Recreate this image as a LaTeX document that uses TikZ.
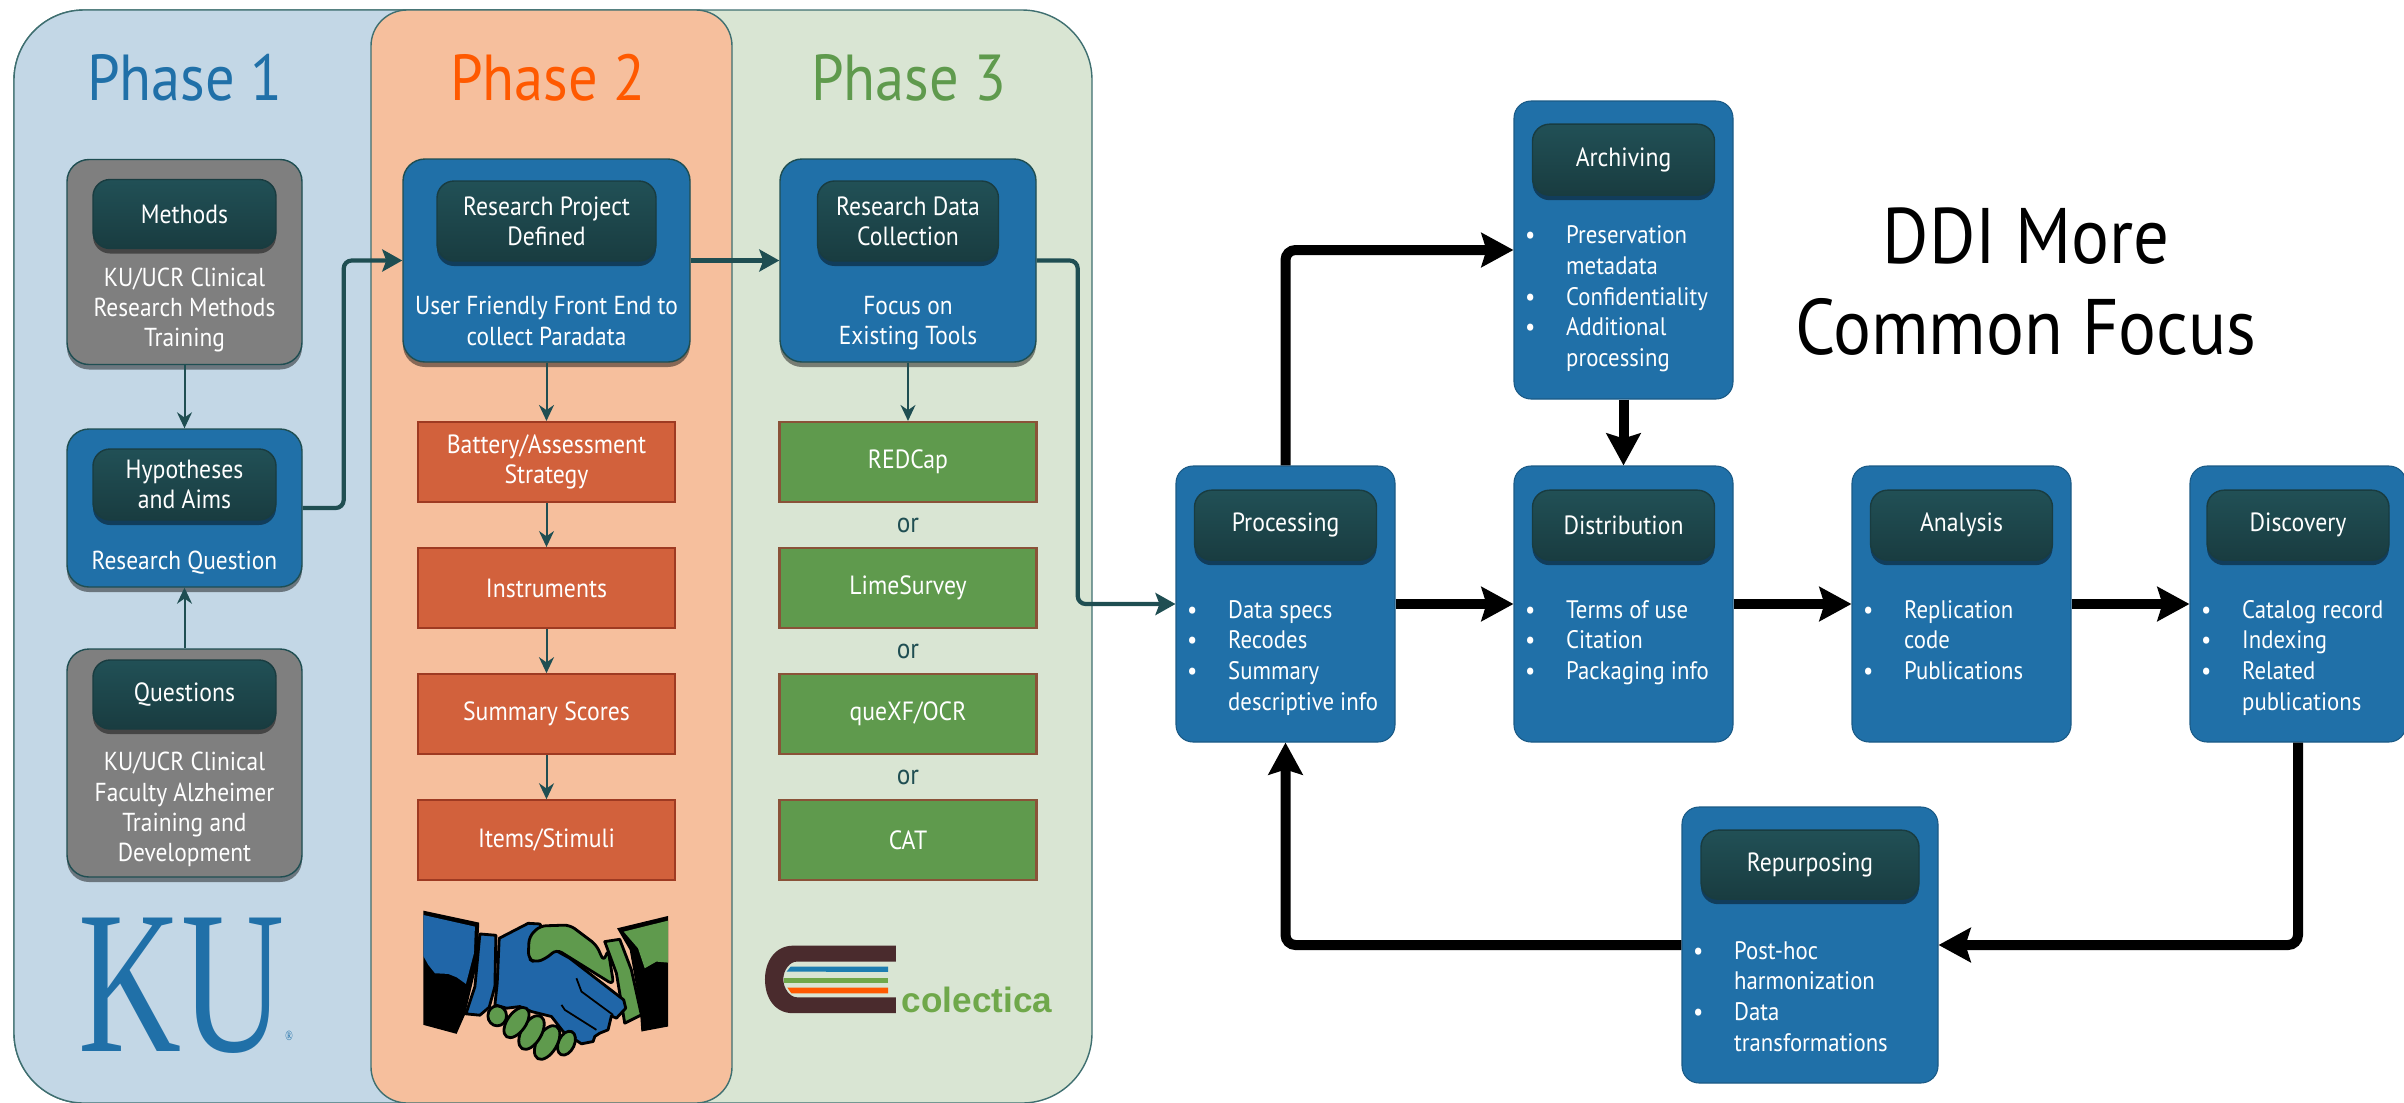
\documentclass[tikz,border=0pt]{standalone}
\usepackage{fontspec}
\setmainfont[FakeStretch=0.9]{PT Sans}
\newfontfamily\kufont[FakeStretch=0.7]{Liberation Serif}
\newfontfamily\colfont{Liberation Sans}
\usepackage{tikz}
\usetikzlibrary{arrows.meta, positioning, shadows}

\definecolor{panelblue}{HTML}{C3D7E6}
\definecolor{panelorange}{HTML}{F6BF9D}
\definecolor{panelgreen}{HTML}{D9E5D3}
\definecolor{panelline}{HTML}{3F6F70}
\definecolor{boxblue}{HTML}{2070A8}
\definecolor{boxgrey}{HTML}{7F7F7F}
\definecolor{boxorange}{HTML}{D2613C}
\definecolor{boxgreen}{HTML}{5F9A4D}
\definecolor{edgeorange}{HTML}{9E3A22}
\definecolor{edgegreen}{HTML}{8A5238}
\definecolor{hdrtop}{HTML}{215056}
\definecolor{hdrbot}{HTML}{193C40}
\definecolor{linkteal}{HTML}{1F4E52}
\definecolor{colbrown}{HTML}{4A2B2D}
\definecolor{colgreen}{HTML}{6FA84A}
\definecolor{handblue}{HTML}{2066A8}
\definecolor{handgreen}{HTML}{5F9A4D}

\newcommand{\bulitem}{\makebox[.41cm][l]{\textbullet}}
\newcommand{\bulcont}{\hspace*{.41cm}}

\begin{document}
\begin{tikzpicture}[
    x=1cm, y=-1cm,
    node distance=0.44cm,
    panel/.style={draw=panelline, line width=0.4pt},
    softshadow/.style={drop shadow={shadow xshift=0cm, shadow yshift=-0.05cm, opacity=0.45, fill=black}},
    stagebox/.style={rectangle, draw=linkteal, line width=0.4pt, rounded corners=0.22cm, softshadow, inner sep=0pt},
    bluebox/.style={stagebox, fill=boxblue},
    greybox/.style={stagebox, fill=boxgrey},
    listbox/.style={rectangle, fill=boxblue, draw=boxblue!80!black, line width=0.3pt, rounded corners=0.17cm, inner sep=0pt, minimum width=2.19cm, minimum height=2.76cm},
    hdr/.style={rectangle, draw=hdrbot, line width=0.4pt, rounded corners=0.17cm, top color=hdrtop, bottom color=hdrbot, softshadow, text=white, align=center, inner sep=0pt, font=\fontsize{7.5}{8.6}\selectfont},
    bodytxt/.style={text=white, align=center, inner sep=0pt, font=\fontsize{7.4}{8.6}\selectfont},
    listtxt/.style={text=white, align=left, inner sep=0pt, font=\fontsize{7.2}{8.75}\selectfont},
    orangebox/.style={rectangle, draw=edgeorange, line width=0.6pt, fill=boxorange, text=white, align=center, minimum width=2.57cm, minimum height=0.8cm, inner sep=0pt, font=\fontsize{7.5}{8.6}\selectfont},
    greenbox/.style={orangebox, draw=edgegreen, fill=boxgreen},
    ortxt/.style={text=linkteal, inner sep=0pt, font=\fontsize{8}{9}\selectfont},
    phasetxt/.style={inner sep=0pt, font=\fontsize{18.5}{20}\selectfont},
    titletxt/.style={text=black, align=center, inner sep=0pt, font=\fontsize{22.4}{25.9}\selectfont},
    flow/.style={-{Stealth[length=1.6mm, width=1.5mm]}, draw=linkteal, line width=0.2mm},
    link/.style={-{Stealth[length=2mm, width=2.2mm, inset=0.4mm]}, draw=linkteal, line width=0.42mm, rounded corners=0.08cm},
    bigflow/.style={-{Stealth[length=3.2mm, width=3.4mm, inset=0.5mm]}, draw=black, line width=1mm, rounded corners=0.1cm}
]
\useasboundingbox (0,0) rectangle (24.04,11.02);

% phase panels
\path[panel, fill=panelgreen, rounded corners=0.7cm] (0.14,0.1) rectangle (10.92,11.03);
\path[fill=panelblue] [rounded corners=0.7cm] (5.5,0.1) -- (0.14,0.1) -- (0.14,11.03) -- (5.5,11.03) [sharp corners] -- cycle;
\path[panel, rounded corners=0.7cm] (5.5,0.1) -- (0.14,0.1) -- (0.14,11.03) -- (5.5,11.03);
\path[panel, fill=panelorange, rounded corners=0.36cm] (3.71,0.1) rectangle (7.32,11.03);

\node[phasetxt, text=boxblue] (phaseone) at (1.85,0.78) {Phase 1};
\node[phasetxt, text=orange!70!red] (phasetwo) at (5.48,0.78) {Phase 2};
\node[phasetxt, text=boxgreen] (phasethree) at (9.09,0.78) {Phase 3};

% phase 1
\node[greybox, minimum width=2.35cm, minimum height=2.05cm] (methods) at (1.845,2.62) {};
\node[hdr, minimum width=1.83cm, minimum height=0.69cm, below=0.2cm of methods.north] (methodsh) {Methods};
\node[bodytxt, below=0.18cm of methodsh] (methodsb) {KU/UCR Clinical\\Research Methods\\Training};

\node[bluebox, minimum width=2.35cm, minimum height=1.58cm] (hypo) at (1.845,5.08) {};
\node[hdr, minimum width=1.83cm, minimum height=0.71cm, below=0.2cm of hypo.north] (hypoh) {Hypotheses\\and Aims};
\node[bodytxt, below=0.3cm of hypoh] (hypob) {Research Question};

\node[greybox, minimum width=2.35cm, minimum height=2.28cm] (quest) at (1.845,7.63) {};
\node[hdr, minimum width=1.83cm, minimum height=0.69cm, below=0.11cm of quest.north] (questh) {Questions};
\node[bodytxt, below=0.22cm of questh] (questb) {KU/UCR Clinical\\Faculty Alzheimer\\Training and\\Development};

% phase 2
\node[bluebox, minimum width=2.87cm, minimum height=2.03cm] (project) at (5.465,2.605) {};
\node[hdr, minimum width=2.19cm, minimum height=0.8cm, below=0.22cm of project.north] (projecth) {Research Project\\Defined};
\node[bodytxt, below=0.34cm of projecth] (projectb) {User Friendly Front End to\\collect Paradata};

\node[orangebox] (battery) at (5.465,4.62) {Battery/Assessment\\Strategy};
\node[orangebox, below=of battery] (instr) {Instruments};
\node[orangebox, below=of instr] (scores) {Summary Scores};
\node[orangebox, below=of scores] (items) {Items/Stimuli};

% phase 3
\node[bluebox, minimum width=2.56cm, minimum height=2.03cm] (collect) at (9.08,2.605) {};
\node[hdr, minimum width=1.81cm, minimum height=0.8cm, below=0.22cm of collect.north] (collecth) {Research Data\\Collection};
\node[bodytxt, below=0.34cm of collecth] (collectb) {Focus on\\Existing Tools};

\node[greenbox] (redcap) at (9.08,4.62) {REDCap};
\node[greenbox, below=of redcap] (lime) {LimeSurvey};
\node[greenbox, below=of lime] (quexf) {queXF/OCR};
\node[greenbox, below=of quexf] (cat) {CAT};
\path (redcap) -- node[ortxt] (orone) {or} (lime);
\path (lime) -- node[ortxt] (ortwo) {or} (quexf);
\path (quexf) -- node[ortxt] (orthree) {or} (cat);

% logos
\node[text=boxblue, inner sep=0pt, font=\kufont\fontsize{58}{58}\selectfont] (kulogo) at (1.82,9.86) {KU};
\node[text=boxblue, anchor=west, inner sep=0pt, font=\kufont\fontsize{4}{4}\selectfont] (kureg) at (kulogo.east) [xshift=-0.01cm, yshift=-0.5cm] {®};

% handshake
\begin{scope}[shift={(4,8.9)}, x=0.0333mm, y=-0.0333mm, line join=round]
\fill[black] (70,62) -- (238,98) -- (232,220) -- (195,375) -- (170,432) -- (70,405) -- cycle;
\fill[handblue] (70,75) -- (225,110) -- (222,190) -- (198,282) -- (170,262) -- (145,252) -- (105,250) -- (85,225) -- (70,198) -- cycle;
\draw[fill=handblue, line width=0.8pt] (240,132) -- (288,136) -- (285,290) -- (268,352) -- (240,376) -- (198,372) -- (225,290) -- cycle;
\fill[black] (652,115) -- (805,78) -- (805,410) -- (725,425) -- (720,350) -- (690,180) -- cycle;
\fill[handgreen] (672,125) -- (805,92) -- (805,218) -- (770,215) -- (735,235) -- (715,175) -- cycle;
\draw[fill=handgreen, line width=0.8pt] (615,155) -- (660,148) -- (695,240) -- (725,375) -- (675,400) -- (650,250) -- cycle;
\draw[fill=handblue, line width=0.8pt] (298,145) -- (385,100) -- (420,102) -- (465,180) -- (510,205) -- (672,330) -- (678,355) -- (650,385) -- (635,378) -- (625,420) -- (600,430) -- (585,440) -- (580,455) -- (545,462) -- (490,425) -- (455,380) -- (395,365) -- (360,350) -- (320,355) -- (285,345) -- (292,280) -- cycle;
\draw[fill=handgreen, line width=0.8pt, rounded corners=0.06cm] (388,140) -- (420,108) -- (510,105) -- (590,165) -- (612,215) -- (625,178) -- (642,285) -- (470,178) -- (440,205) -- (405,218) -- (385,205) -- cycle;
\draw[fill=handgreen, line width=0.8pt] (500,460) ellipse [x radius=24, y radius=38, rotate=-25];
\draw[fill=handgreen, line width=0.8pt] (442,458) ellipse [x radius=30, y radius=56, rotate=-30];
\draw[fill=handgreen, line width=0.8pt] (395,428) ellipse [x radius=30, y radius=56, rotate=-30];
\draw[fill=handgreen, line width=0.8pt] (350,398) ellipse [x radius=28, y radius=52, rotate=-35];
\draw[fill=handgreen, line width=0.8pt] (292,378) ellipse [x radius=28, y radius=30];
\draw[black, line width=0.5pt] (530,265) -- (545,305) -- (640,375);
\draw[black, line width=0.5pt] (485,345) -- (495,360) -- (590,420);
\end{scope}

% colectica logo
\begin{scope}[shift={(7.5,9.2)}, x=0.0333mm, y=-0.0333mm]
\fill[colbrown] (438,77) -- (130,77) .. controls (75,77) and (45,125) .. (45,178) .. controls (45,235) and (75,280) .. (130,280) -- (438,280) -- (438,232) -- (140,232) .. controls (120,232) and (100,205) .. (100,178) .. controls (100,150) and (120,125) .. (140,125) -- (438,125) -- cycle;
\fill[boxblue!90!cyan] (110,155) -- (122,140) -- (415,140) -- (415,156) -- cycle;
\fill[colgreen] (102,173) -- (415,173) -- (415,188) -- (102,188) -- cycle;
\fill[orange!70!red] (112,203) -- (415,203) -- (415,220) -- (124,220) -- cycle;
\end{scope}
\node[text=colgreen, anchor=base west, inner sep=0pt, font=\colfont\bfseries\fontsize{10}{10}\selectfont] (colectica) at (9.01,10.12) {colectica};

% connectors, phases
\draw[flow] (methods) -- (hypo);
\draw[flow] (quest) -- (hypo);
\draw[link] (hypo.east) -- ++(0.41,0) |- (project.west);
\draw[link] (project.east) -- (collect.west);
\draw[flow] (project) -- (battery);
\draw[flow] (battery) -- (instr);
\draw[flow] (instr) -- (scores);
\draw[flow] (scores) -- (items);
\draw[flow] (collect) -- (redcap);

% data lifecycle
\node[listbox] (proc) at (12.855,6.04) {};
\node[hdr, minimum width=1.82cm, minimum height=0.7cm, below=0.24cm of proc.north] (proch) {Processing};
\node[listtxt, below right=-0.045cm and 0.11cm of proc.west] (procl) {\bulitem Data specs\\\bulitem Recodes\\\bulitem Summary\\\bulcont descriptive info};

\node[listbox, minimum height=2.98cm] (arch) at (16.235,2.5) {};
\node[hdr, minimum width=1.82cm, minimum height=0.71cm, below=0.23cm of arch.north] (archh) {Archiving};
\node[listtxt, below right=-0.25cm and 0.11cm of arch.west] (archl) {\bulitem Preservation\\\bulcont metadata\\\bulitem Confidentiality\\\bulitem Additional\\\bulcont processing};

\node[listbox] (dist) at (16.235,6.04) {};
\node[hdr, minimum width=1.82cm, minimum height=0.7cm, below=0.24cm of dist.north] (disth) {Distribution};
\node[listtxt, below right=-0.045cm and 0.11cm of dist.west] (distl) {\bulitem Terms of use\\\bulitem Citation\\\bulitem Packaging info};

\node[listbox] (anal) at (19.615,6.04) {};
\node[hdr, minimum width=1.82cm, minimum height=0.7cm, below=0.24cm of anal.north] (analh) {Analysis};
\node[listtxt, below right=-0.045cm and 0.11cm of anal.west] (anall) {\bulitem Replication\\\bulcont code\\\bulitem Publications};

\node[listbox, minimum width=2.16cm] (disc) at (22.98,6.04) {};
\node[hdr, minimum width=1.82cm, minimum height=0.7cm, below=0.24cm of disc.north] (disch) {Discovery};
\node[listtxt, below right=-0.045cm and 0.11cm of disc.west] (discl) {\bulitem Catalog record\\\bulitem Indexing\\\bulitem Related\\\bulcont publications};

\node[listbox, minimum width=2.56cm] (repur) at (18.1,9.45) {};
\node[hdr, minimum width=2.18cm, minimum height=0.69cm, below=0.23cm of repur.north] (repurh) {Repurposing};
\node[listtxt, below right=-0.045cm and 0.11cm of repur.west] (repurl) {\bulitem Post-hoc\\\bulcont harmonization\\\bulitem Data\\\bulcont transformations};

\node[titletxt] (ddititle) at (20.26,2.82) {DDI More\\Common Focus};

\draw[link] (collect.east) -- ++(0.41,0) |- (proc.west);
\draw[bigflow] (proc) -- (dist);
\draw[bigflow] (dist) -- (anal);
\draw[bigflow] (anal) -- (disc);
\draw[bigflow] (arch) -- (dist);
\draw[bigflow] (proc.north) |- (arch.west);
\draw[bigflow] (disc.south) |- (repur.east);
\draw[bigflow] (repur.west) -| (proc.south);
\end{tikzpicture}
\end{document}
